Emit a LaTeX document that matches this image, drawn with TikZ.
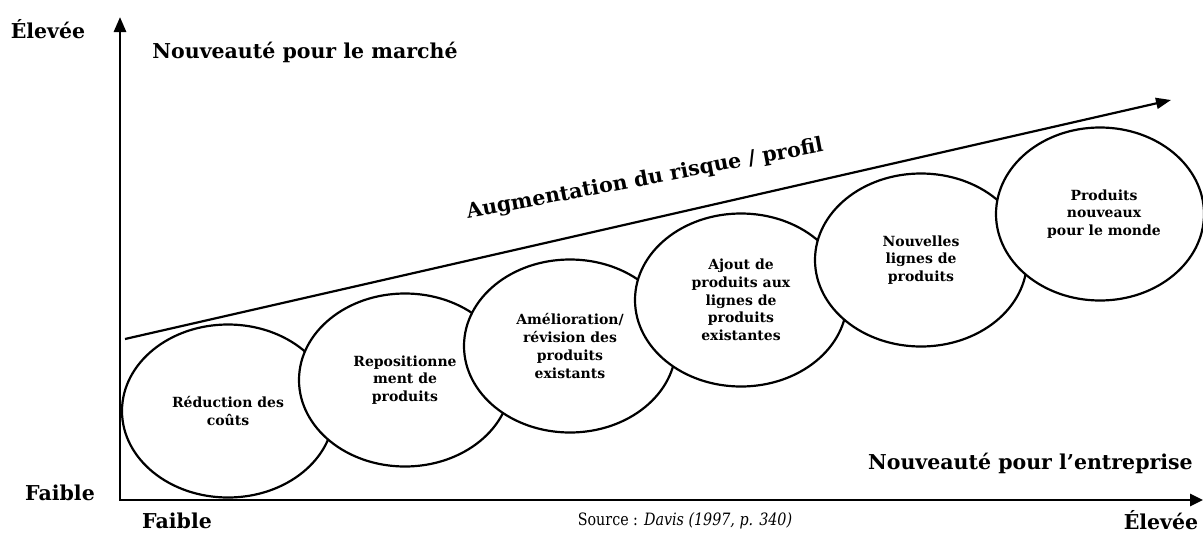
\documentclass[tikz,border=0pt]{standalone}
\usepackage{fontspec}
\setmainfont{DejaVu Serif}
\newfontfamily\srcfont[FakeStretch=0.84]{DejaVu Serif}
\usetikzlibrary{arrows.meta,shapes.geometric}
\begin{document}
\begin{tikzpicture}[x=1pt,y=-1pt,
  axis/.style={line width=2.8pt,line join=miter},
  blob/.style={ellipse,draw=black,fill=white,line width=2.2pt,
    minimum width=212pt,minimum height=173pt,inner sep=0pt,align=center,
    font=\bfseries\fontsize{14}{17.7}\selectfont},
  lab/.style={inner sep=0pt,font=\bfseries\fontsize{20.5}{24}\selectfont},
  head/.style={inner sep=0pt,font=\bfseries\fontsize{20.5}{24}\selectfont}]
\useasboundingbox (0,0) rectangle (1203,533);
% axes
\coordinate (O) at (120,500);
\coordinate (ytop) at (120,17);
\coordinate (xend) at (1203,500);
\draw[axis,{Triangle[length=15pt,width=12pt]}-{Triangle[length=13pt,width=12pt]}] (ytop) -- (O) -- (xend);
% risk arrow
\coordinate (rs) at (125,339);
\coordinate (re) at (1171,100);
\draw[line width=2.2pt,-{Triangle[length=15pt,width=11pt]}] (rs) -- (re);
\node[head,rotate=10.7,anchor=base] (risk) at (646,185) {Augmentation du risque / profil};
% ellipses
\node[blob] (e1) at (228,411) {Réduction des\\coûts};
\node[blob] (e2) at (405,380) {Repositionne\\ment de\\produits};
\node[blob] (e3) at (570,346) {Amélioration/\\révision des\\produits\\existants};
\node[blob] (e4) at (741,300) {Ajout de\\produits aux\\lignes de\\produits\\existantes};
\node[blob] (e5) at (921,260) {Nouvelles\\lignes de\\produits};
\node[blob,minimum width=208pt] (e6) at (1100,214) {\hspace*{8pt}Produits\\\hspace*{8pt}nouveaux\\\hspace*{8pt}pour le monde};
% labels
\node[lab] (ytl) at (48,29) {Élevée};
\node[head] (mkt) at (305,52) {Nouveauté pour le marché};
\node[lab,anchor=east] (yfl) at (95,493) {Faible};
\node[lab] (xfl) at (177,521) {Faible};
\node[inner sep=0pt,font=\srcfont\fontsize{17}{20}\selectfont] (src) at (685,521) {Source : \textit{Davis (1997, p. 340)}};
\node[lab] (xel) at (1161,520) {Élevée};
\node[head,anchor=east] (ent) at (1193,463) {Nouveauté pour l’entreprise};
\end{tikzpicture}
\end{document}
